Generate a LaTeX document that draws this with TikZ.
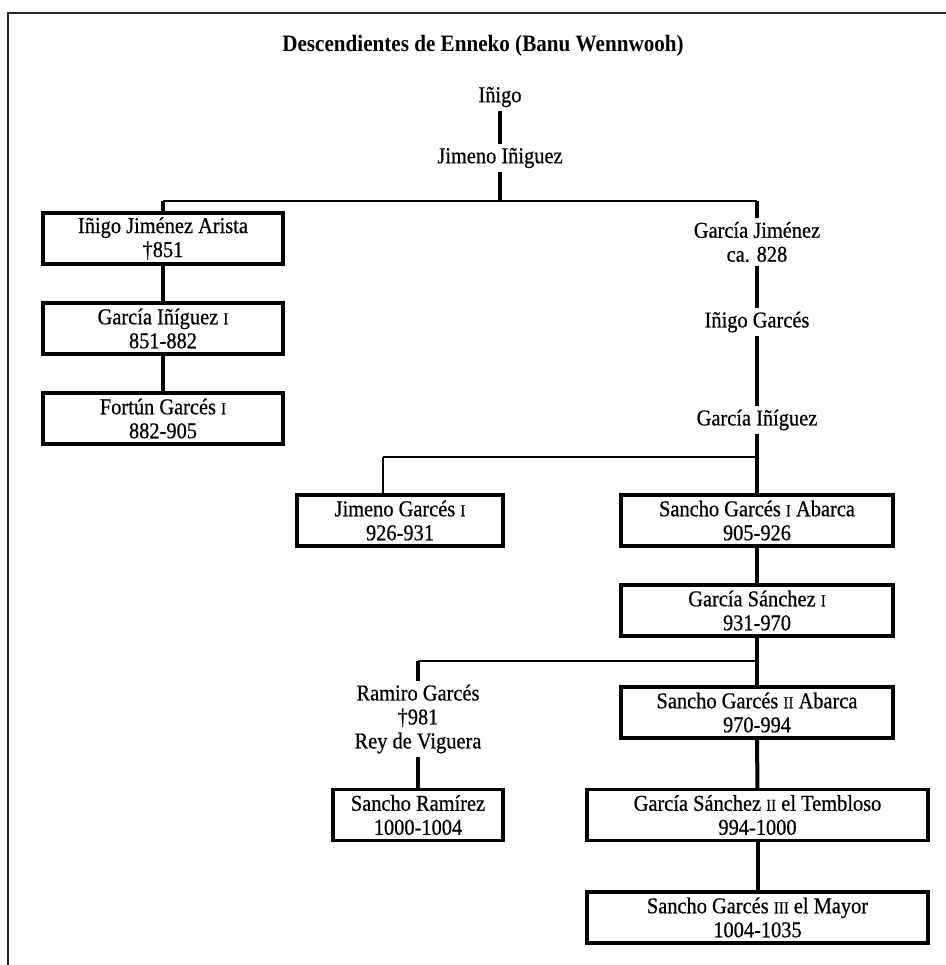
\documentclass[tikz,border=0pt]{standalone}
\usepackage{fontspec}
\setmainfont{Liberation Serif}[FakeStretch=0.9, UprightFeatures={FakeBold=0.6}]
\newcommand\rnum[1]{{\fontsize{12.5}{12}\selectfont #1}}
\begin{document}
\begin{tikzpicture}[x=0.75pt,y=-0.75pt,
  every node/.style={font=\fontsize{17}{18}\selectfont, align=center, inner sep=0pt},
  plain/.style={inner sep=2.5pt},
  kbox/.style={draw, line width=2.3pt, minimum height=38.25pt, inner sep=0pt},
  vline/.style={line width=3pt},
  hline/.style={line width=1.6pt},
  frameline/.style={line width=1.5pt, black!85}]
\useasboundingbox (0,0) rectangle (946,965);
\draw[frameline] (946,13) -- (8,13) -- (8,965);

\node (title) at (483,46) {\fontsize{17.6}{18}\selectfont\bfseries Descendientes de Enneko (Banu Wennwooh)};

\node[plain] (inigo) at (500,97) {Iñigo};
\node[plain] (jim) at (500,158) {Jimeno Iñiguez};

\node[kbox, minimum width=180pt] (L1) at (163,238.5) {Iñigo Jiménez Arista\\†851};
\node[kbox, minimum width=180pt] (L2) at (163,328.5) {García Iñíguez \rnum{I}\\851-882};
\node[kbox, minimum width=180pt] (L3) at (163,418.5) {Fortún Garcés \rnum{I}\\882-905};

\node[plain] (gj) at (757,242) {García Jiménez\\ca. 828};
\node[plain] (ig) at (757,322) {Iñigo Garcés};
\node[plain] (gi) at (757,420) {García Iñíguez};

\node[kbox, minimum width=154.5pt] (JG) at (400,520.5) {Jimeno Garcés \rnum{I}\\926-931};
\node[kbox, minimum width=204pt] (S1) at (757,520.5) {Sancho Garcés \rnum{I} Abarca\\905-926};
\node[kbox, minimum width=204pt] (GS1) at (757,610.5) {García Sánchez \rnum{I}\\931-970};

\node[plain] (RG) at (418,719) {Ramiro Garcés\\†981\\Rey de Viguera};
\node[kbox, minimum width=204pt] (S2) at (757,712.5) {Sancho Garcés \rnum{II} Abarca\\970-994};

\node[kbox, minimum width=127.5pt] (SR) at (418,815) {Sancho Ramírez\\1000-1004};
\node[kbox, minimum width=255.75pt] (GS2) at (757.5,815) {García Sánchez \rnum{II} el Tembloso\\994-1000};
\node[kbox, minimum width=255.75pt] (S3) at (757.5,917.5) {Sancho Garcés \rnum{III} el Mayor\\1004-1035};

\coordinate (h1) at (500,201);
\coordinate (h1l) at (163,201);
\coordinate (h1r) at (757,201);
\coordinate (h2l) at (383,457);
\coordinate (h2r) at (757,457);
\coordinate (h3l) at (418,661);
\coordinate (h3r) at (757,661);

\draw[vline] (inigo) -- (jim);
\draw[vline] (jim) -- (h1);
\draw[hline] (h1l) -- (h1r);
\draw[vline] (h1l) -- (L1);
\draw[vline] (L1) -- (L2);
\draw[vline] (L2) -- (L3);
\draw[vline] (h1r) -- (gj);
\draw[vline] (gj) -- (ig);
\draw[vline] (ig) -- (gi);
\draw[vline] (gi) -- (S1);
\draw[hline] (h2l) -- (h2r);
\draw[hline] (h2l) -- (h2l |- JG.north);
\draw[vline] (S1) -- (GS1);
\draw[vline] (GS1) -- (S2);
\draw[hline] (h3l) -- (h3r);
\draw[vline] (h3l) -- (RG);
\draw[vline] (RG) -- (SR);
\draw[vline] (S2) -- (GS2);
\draw[vline] (GS2) -- (S3);
\end{tikzpicture}
\end{document}
